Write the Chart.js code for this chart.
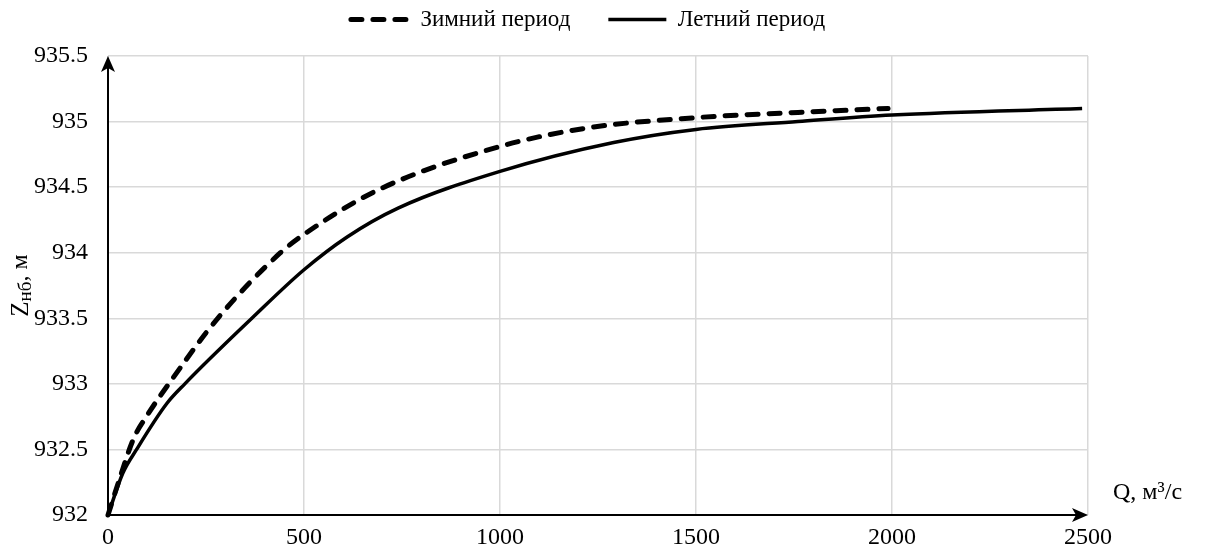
<!DOCTYPE html>
<html>
<head>
<meta charset="utf-8">
<script src="https://cdn.jsdelivr.net/npm/chart.js@4"></script>
<style>
    html, body { margin: 0; padding: 0; background: #fff; }
    #wrap { width: 1206px; height: 553px; }
</style>
</head>
<body>
<div id="wrap"><canvas id="chart"></canvas></div>
<script>
// Q, m3/s and tailwater level Z, m
const winterQ = [0, 30, 65, 100, 155, 280, 440, 500, 690, 1000, 1220, 1500, 1760, 1990];
const winterZ = [932.0, 932.28, 932.58, 932.76, 933.0, 933.5, 934.0, 934.14, 934.48, 934.81, 934.95, 935.03, 935.07, 935.1];
const summerQ = [0, 38, 73, 150, 196, 367, 500, 610, 740, 1000, 1290, 1500, 1760, 2000, 2485];
const summerZ = [932.0, 932.32, 932.5, 932.85, 933.0, 933.5, 933.87, 934.12, 934.34, 934.62, 934.84, 934.94, 935.0, 935.05, 935.1];
const seriesNames = ['Зимний период', 'Летний период'];
const xTicks = [0, 500, 1000, 1500, 2000, 2500];
const yTicks = [932, 932.5, 933, 933.5, 934, 934.5, 935, 935.5];

const FONT = 'Liberation Serif, Times New Roman, serif';

const toPoints = (xs, ys) => xs.map((x, i) => ({ x: x, y: ys[i] }));

// legend: wide item spacing, extra gap below, centred over the plot area
const legendGap = {
    id: 'legendGap',
    beforeInit(chart) {
        const fit = chart.legend.fit;
        chart.legend.fit = function () {
            fit.bind(chart.legend)();
            this.height += 15;
        };
    },
    afterLayout(chart) {
        chart.legend.left += 44;
        chart.legend.right += 44;
    }
};

// axes with arrows, x-axis caption and y-axis title with subscript
const axesPlugin = {
    id: 'axesArrows',
    afterDatasetsDraw(chart) {
        const ctx = chart.ctx;
        const a = chart.chartArea;
        ctx.save();
        ctx.strokeStyle = '#000';
        ctx.fillStyle = '#000';
        ctx.lineWidth = 2;

        ctx.beginPath();
        ctx.moveTo(a.left, a.bottom);
        ctx.lineTo(a.left, a.top + 8);
        ctx.moveTo(a.left, a.bottom);
        ctx.lineTo(a.right - 8, a.bottom);
        ctx.stroke();

        ctx.beginPath();
        ctx.moveTo(a.left, a.top);
        ctx.lineTo(a.left - 7, a.top + 16);
        ctx.lineTo(a.left, a.top + 12);
        ctx.lineTo(a.left + 7, a.top + 16);
        ctx.closePath();
        ctx.fill();

        ctx.beginPath();
        ctx.moveTo(a.right, a.bottom);
        ctx.lineTo(a.right - 16, a.bottom - 7);
        ctx.lineTo(a.right - 12, a.bottom);
        ctx.lineTo(a.right - 16, a.bottom + 7);
        ctx.closePath();
        ctx.fill();

        ctx.font = '24px ' + FONT;
        ctx.textBaseline = 'middle';
        ctx.textAlign = 'left';
        ctx.fillText('Q, м³/с', a.right + 25, a.bottom - 22);

        ctx.translate(21, (a.top + a.bottom) / 2);
        ctx.rotate(-Math.PI / 2);
        ctx.font = '25px ' + FONT;
        const wZ = ctx.measureText('Z').width;
        ctx.font = '19px ' + FONT;
        const wSub = ctx.measureText('нб').width;
        ctx.font = '24px ' + FONT;
        const wTail = ctx.measureText(', м').width;
        let x = -(wZ + wSub + wTail) / 2;
        ctx.font = '25px ' + FONT;
        ctx.fillText('Z', x, 0);
        x += wZ;
        ctx.font = '19px ' + FONT;
        ctx.fillText('нб', x, 5);
        x += wSub;
        ctx.font = '24px ' + FONT;
        ctx.fillText(', м', x, 0);
        ctx.restore();
    }
};

const ctx = document.getElementById('chart').getContext('2d');
new Chart(ctx, {
    type: 'scatter',
    data: {
        datasets: [{
            label: seriesNames[0],
            data: toPoints(winterQ, winterZ),
            showLine: true,
            borderColor: '#000',
            backgroundColor: '#000',
            borderWidth: 5,
            borderDash: [11, 11],
            borderCapStyle: 'round',
            pointRadius: 0,
            cubicInterpolationMode: 'monotone',
            clip: false
        }, {
            label: seriesNames[1],
            data: toPoints(summerQ, summerZ),
            showLine: true,
            borderColor: '#000',
            backgroundColor: '#000',
            borderWidth: 3.5,
            pointRadius: 0,
            cubicInterpolationMode: 'monotone',
            clip: false
        }]
    },
    options: {
        responsive: true,
        maintainAspectRatio: false,
        animation: false,
        layout: { padding: { left: 0, right: 118, top: -30, bottom: 0 } },
        scales: {
            x: {
                type: 'linear',
                min: 0,
                max: 2500,
                afterBuildTicks: scale => { scale.ticks = xTicks.map(v => ({ value: v })); },
                afterFit: scale => { scale.height = 38; },
                grid: { color: '#d9d9d9', lineWidth: 1.5, drawTicks: false },
                border: { display: false },
                ticks: {
                    color: '#000',
                    font: { family: FONT, size: 24 },
                    padding: 8,
                    maxRotation: 0,
                    callback: v => String(v)
                }
            },
            y: {
                type: 'linear',
                min: 932,
                max: 935.5,
                afterBuildTicks: scale => { scale.ticks = yTicks.map(v => ({ value: v })); },
                afterFit: scale => { scale.width = 108; },
                grid: { color: '#d9d9d9', lineWidth: 1.5, drawTicks: false },
                border: { display: false },
                ticks: {
                    color: '#000',
                    font: { family: FONT, size: 24 },
                    padding: 20,
                    callback: v => String(v)
                }
            }
        },
        plugins: {
            legend: {
                position: 'top',
                labels: {
                    color: '#000',
                    font: { family: FONT, size: 23 },
                    usePointStyle: true,
                    pointStyle: 'line',
                    pointStyleWidth: 58,
                    padding: 38,
                    generateLabels: chart => {
                        const items = Chart.defaults.plugins.legend.labels.generateLabels(chart);
                        items.forEach(item => {
                            const ds = chart.data.datasets[item.datasetIndex];
                            item.lineDash = ds.borderDash || [];
                            item.lineWidth = ds.borderWidth;
                            item.lineCap = ds.borderCapStyle || 'butt';
                            item.strokeStyle = '#000';
                            item.pointStyle = 'line';
                        });
                        return items;
                    }
                }
            },
            tooltip: { enabled: false }
        }
    },
    plugins: [axesPlugin, legendGap]
});
</script>
</body>
</html>
